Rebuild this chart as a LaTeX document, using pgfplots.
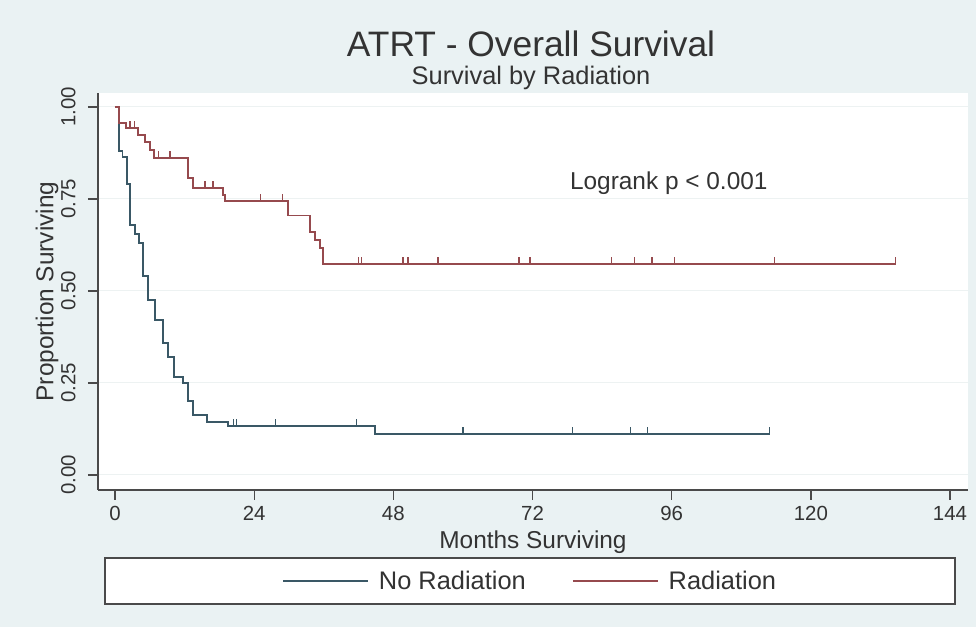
\documentclass[border=0pt]{standalone}
\usepackage{fontspec}
\setmainfont{Liberation Sans}
\usepackage{pgfplots}
\pgfplotsset{compat=1.18}
\definecolor{bg}{HTML}{EAF2F3}
\definecolor{nrad}{HTML}{3A5866}
\definecolor{rad}{HTML}{964A4E}
\definecolor{txt}{HTML}{333333}
\definecolor{axc}{HTML}{4A4A4A}
\definecolor{gridc}{HTML}{EDF2F2}
\pgfdeclareplotmark{cens}{\pgfpathmoveto{\pgfpointorigin}\pgfpathlineto{\pgfpoint{0pt}{\pgfplotmarksize}}\pgfusepathqstroke}
\begin{document}
\begin{tikzpicture}
\fill[bg] (0bp,0bp) rectangle (976bp,627bp);
\node[font=\fontsize{35.5}{40}\selectfont, text=txt] at (531bp,583bp) {ATRT - Overall Survival};
\node[font=\fontsize{25.5}{30}\selectfont, text=txt] at (531bp,549bp) {Survival by Radiation};
\node[draw=axc, line width=1.3bp, fill=white, minimum width=850bp, minimum height=46bp, inner sep=0pt] at (530bp,46bp) {};
\begin{axis}[
 at={(98bp,137bp)}, anchor=south west,
 scale only axis, width=870bp, height=397bp,
 xmin=-2.93, xmax=147.1, ymin=-0.041, ymax=1.038,
 axis background/.style={fill=white},
 axis x line*=bottom, axis y line*=left,
 axis line style={axc, line width=1.3bp, -},
 tick align=outside, major tick length=10bp,
 tick style={axc, line width=1.3bp},
 xtick={0,24,...,144}, ytick={0,0.25,0.5,0.75,1},
 ymajorgrids, grid style={gridc, line width=1bp},
 /pgf/number format/assume math mode=true,
 ticklabel style={font=\fontsize{20.5}{24}\selectfont, text=txt},
 yticklabel shift=9bp, xticklabel shift=3bp,
 yticklabel style={rotate=90, anchor=south, /pgf/number format/.cd, fixed, fixed zerofill, precision=2},
 xlabel={Months Surviving}, ylabel={Proportion Surviving},
 label style={font=\fontsize{24.5}{28}\selectfont, text=txt},
 xlabel style={at={([yshift=-52bp]axis description cs:0.5,0)}, anchor=center},
 ylabel style={at={([xshift=-51bp]axis description cs:0,0.5)}, anchor=center},
 legend style={draw=none, fill=none, at={(0.4966,-0.2292)}, anchor=center,
   font=\fontsize{25.5}{29}\selectfont, text=txt,
   /tikz/every odd column/.append style={column sep=8bp},
   /tikz/every even column/.append style={column sep=44bp}},
 legend columns=2,
 legend image code/.code={\draw[#1] (0bp,0bp) -- (85bp,0bp);},
]
\addplot[const plot, nrad, line width=1.9bp] coordinates {
(0,1) (0.74,0.88) (1.3,0.865) (2.0,0.79) (2.6,0.68) (3.5,0.655) (4.2,0.63) (4.9,0.54) (5.7,0.476) (6.9,0.421) (8.3,0.358) (9.2,0.321) (10.1,0.267) (11.8,0.25) (12.6,0.20) (13.5,0.163) (15.8,0.145) (19.5,0.133) (44.8,0.11) (113,0.11)};
\addlegendentry{No Radiation}
\addplot[const plot, rad, line width=1.9bp] coordinates {
(0,1) (0.7,0.956) (1.9,0.942) (4.0,0.925) (5.2,0.905) (6.0,0.883) (6.8,0.861) (12.6,0.806) (13.5,0.779) (18.6,0.761) (19.0,0.745) (29.9,0.705) (33.6,0.661) (34.5,0.639) (35.3,0.616) (35.9,0.573) (134.6,0.573)};
\addlegendentry{Radiation}
\addplot[forget plot, only marks, mark=cens, mark size=7bp, nrad, line width=1.4bp] coordinates {
(20.4,0.133) (21,0.133) (27.7,0.133) (41.6,0.133) (60,0.11) (78.9,0.11) (88.9,0.11) (91.8,0.11) (112.9,0.11)};
\addplot[forget plot, only marks, mark=cens, mark size=7bp, rad, line width=1.4bp] coordinates {
(2.6,0.942) (3.4,0.942) (7.5,0.861) (9.5,0.861) (15.5,0.779) (16.9,0.779) (19.1,0.745) (25.1,0.745) (28.9,0.745) (42,0.573) (42.5,0.573) (49.7,0.573) (50.5,0.573) (55.7,0.573) (69.7,0.573) (71.6,0.573) (85.6,0.573) (89.6,0.573) (92.6,0.573) (96.5,0.573) (113.7,0.573) (134.6,0.573)};
\node[font=\fontsize{24.5}{28}\selectfont, text=txt] at (axis cs:95.5,0.793) {Logrank p < 0.001};
\end{axis}
\pgfresetboundingbox
\path[use as bounding box] (0bp,0bp) rectangle (976bp,627bp);
\end{tikzpicture}
\end{document}
